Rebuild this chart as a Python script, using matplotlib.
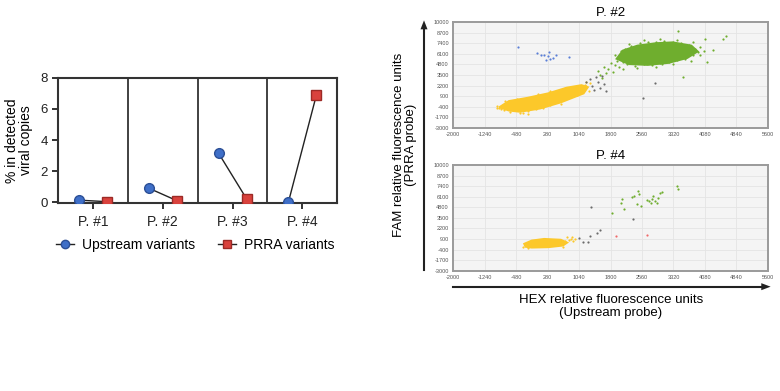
import numpy as np
import matplotlib.pyplot as plt
from matplotlib.patches import Polygon
from matplotlib.lines import Line2D

plt.rcParams['font.family'] = ['Liberation Sans', 'DejaVu Sans']
plt.rcParams['axes.unicode_minus'] = False

# 左图数据
patients = ['P. #1', 'P. #2', 'P. #3', 'P. #4']
upstream = [0.13, 0.9, 3.15, 0.0]
prra = [0.03, 0.1, 0.22, 6.88]

# 右图: ddPCR 液滴 (HEX, FAM)
p2_yellow_core = [(-880, -450), (-650, -850), (-380, -1000), (100, -600), (600, 150),
                  (1150, 1250), (1250, 2000), (1100, 2250), (750, 1950), (300, 1250),
                  (-200, 700), (-650, 300)]
p2_yellow = [(-940, -300), (-880, -560), (-800, -200), (-760, -820), (-700, -450), (-620, -1000),
             (-560, -150), (-500, -700), (-450, 100), (-380, -1100), (-300, 300), (-200, -900),
             (-100, 450), (0, -700), (80, 700), (180, -500), (260, 900), (350, -200), (420, 1100),
             (500, 200), (560, 1400), (640, 500), (720, 1600), (800, 900), (860, 1900), (920, 1200),
             (980, 2000), (1040, 1500), (1100, 2200), (1160, 1800), (1220, 2100), (1280, 1600),
             (-850, -700), (-650, -250), (150, 1000), (700, 1850), (1000, 1100), (-300, -1200),
             (600, -100), (1180, 2300), (-750, 300), (-450, 500), (50, 1200), (350, 1500),
             (1300, 2500), (1200, 2600), (-950, -600), (-200, -1300)]
p2_green_core = [(1950, 5500), (2100, 6500), (2450, 7100), (2900, 7400), (3300, 7500), (3750, 7100),
                 (3900, 6400), (3650, 5600), (3200, 5000), (2700, 4750), (2250, 4850)]
p2_green = [(1600, 3100), (1700, 3700), (1750, 4300), (1850, 3900), (1900, 4700), (1950, 5200),
            (2000, 4500), (2050, 6000), (2100, 5100), (2150, 6700), (2200, 4800), (2300, 7100),
            (2400, 4600), (2500, 7400), (2600, 4900), (2700, 7600), (2800, 4700), (2900, 7500),
            (3000, 5000), (3100, 7700), (3200, 5100), (3300, 7600), (3400, 5300), (3500, 7400),
            (3600, 5500), (3700, 7200), (3800, 5900), (3850, 6700), (3900, 6300), (3950, 6000),
            (3430, 8900), (4514, 7900), (4586, 8280), (4273, 6560), (4128, 5100), (4080, 7900),
            (3550, 3250), (1500, 4000), (1800, 5000), (2250, 5700), (3050, 4800), (3750, 5200),
            (1900, 5900), (2050, 6500), (2250, 7300), (2600, 7800), (3000, 7900), (3400, 7800),
            (3800, 7500), (3950, 6900), (4050, 6400), (2100, 4300), (2450, 4400), (2900, 4500),
            (3300, 4900), (1650, 4500), (1550, 3500)]
p2_gray = [(1200, 2600), (1300, 3000), (1350, 2200), (1450, 3300), (1500, 2700), (1550, 1900),
           (1600, 3400), (1650, 2400), (1700, 1500), (1400, 1700), (2585, 660), (2875, 2500)]
p2_blue = [(-432, 6930), (30, 6200), (120, 5900), (200, 5900), (280, 5800), (320, 6300),
           (350, 5500), (250, 5400), (420, 5600), (480, 6000), (800, 5700)]

p4_yellow_core = [(-250, -50), (-100, -150), (300, -100), (650, 100), (750, 450), (600, 800),
                  (200, 900), (-100, 700), (-280, 300)]
p4_yellow = [(700, 600), (760, 1100), (800, 800), (850, 950), (900, 700), (880, 1150),
             (-300, -100), (-200, -250), (650, -50), (950, 850)]
p4_gray = [(1040, 1020), (1136, 570), (1250, 570), (1306, 1270), (1467, 1600), (1547, 2000),
           (1322, 4870), (2351, 3360)]
p4_red = [(1925, 1300), (2690, 1400)]
p4_green = [(1829, 4133), (2047, 5290), (2077, 5820), (2118, 4550), (2311, 6030), (2359, 6230),
            (2455, 6770), (2495, 6400), (2447, 5170), (2536, 4960), (2689, 5700), (2737, 5610),
            (2794, 5780), (2834, 6220), (2874, 5610), (2770, 5290), (2938, 5910), (2994, 6520),
            (3034, 6640), (2930, 5360), (3396, 7450), (3420, 7050)]

xticks = np.arange(-2000, 5601, 760)
yticks = np.arange(-3000, 10001, 1300)

blue = '#3f6fc8'
red = '#d9423d'
yellow = '#fcc82a'
green = '#6fae2e'

fig = plt.figure(figsize=(7.8, 3.91), dpi=100)

# ---- 左图 ----
ax = fig.add_axes([0.0744, 0.481, 0.358, 0.3197])
x = np.arange(1, 5)
for i in range(4):
    ax.plot([x[i] - 0.2, x[i] + 0.2], [upstream[i], prra[i]], color='#222222', lw=1, zorder=2)
ax.plot(x - 0.2, upstream, 'o', color=blue, mec='#2c4f96', ms=7, zorder=3)
ax.plot(x + 0.2, prra, 's', color=red, mec='#9c2a26', ms=7, zorder=3)
for d in [1.5, 2.5, 3.5]:
    ax.axvline(d, color='#333333', lw=1.3)
ax.set_xlim(0.5, 4.5)
ax.set_ylim(-0.05, 8)
ax.set_yticks([0, 2, 4, 6, 8])
ax.set_xticks(x)
ax.set_xticklabels(patients)
ax.tick_params(labelsize=9.5, width=1.3, length=4, colors='#222222')
ax.tick_params(axis='x', pad=5, labelsize=10)
for s in ax.spines.values():
    s.set_linewidth(1.5)
    s.set_color('#333333')
ax.set_ylabel('% in detected\nviral copies', fontsize=10, linespacing=1.0, labelpad=5)

handles = [Line2D([], [], color='#222222', lw=1, marker='o', mfc=blue, mec='#2c4f96', ms=6),
           Line2D([], [], color='#222222', lw=1, marker='s', mfc=red, mec='#9c2a26', ms=6)]
fig.legend(handles, ['Upstream variants', 'PRRA variants'], loc='center left',
           bbox_to_anchor=(0.063, 0.373), ncol=2, frameon=False, fontsize=10,
           handlelength=1.3, columnspacing=1.6, handletextpad=0.6, borderpad=0)

# ---- 右图 ----
def droplet_panel(pos, title, cores, groups):
    a = fig.add_axes(pos)
    a.set_facecolor('#f4f4f4')
    for core, c in cores:
        a.add_patch(Polygon(core, closed=True, fc=c, ec=c, lw=1.5, zorder=2))
    for pts, c in groups:
        arr = np.array(pts)
        a.scatter(arr[:, 0], arr[:, 1], s=2.5, color=c, lw=0, zorder=3)
    a.set_xlim(-2000, 5600)
    a.set_ylim(-3000, 10000)
    a.set_xticks(xticks)
    a.set_yticks(yticks)
    a.grid(True, color='#e4e4e4', lw=0.6)
    a.set_axisbelow(True)
    a.tick_params(labelsize=4, length=0, pad=3, colors='#555555')
    for s in a.spines.values():
        s.set_color('#9a9a9a')
        s.set_linewidth(1.4)
    a.set_title(title, fontsize=9.5, pad=4)
    return a

droplet_panel([0.5808, 0.6726, 0.4038, 0.271], 'P. #2',
              [(p2_yellow_core, yellow), (p2_green_core, green)],
              [(p2_yellow, yellow), (p2_green, green), (p2_gray, '#6b6b6b'), (p2_blue, '#5b7fd6')])
droplet_panel([0.5808, 0.3077, 0.4038, 0.2703], 'P. #4',
              [(p4_yellow_core, yellow)],
              [(p4_yellow, yellow), (p4_green, green), (p4_gray, '#6b6b6b'), (p4_red, '#f06a6a')])

# 坐标箭头
fig.add_artist(Line2D([0.5436, 0.5436], [0.3095, 0.93], transform=fig.transFigure,
                      color='#222222', lw=1.5))
fig.patches.append(plt.Polygon([(0.5436 - 0.0045, 0.925), (0.5436 + 0.0045, 0.925), (0.5436, 0.948)],
                               closed=True, transform=fig.transFigure, fc='#222222', ec='none'))
fig.add_artist(Line2D([0.581, 0.978], [0.2668, 0.2668], transform=fig.transFigure,
                      color='#222222', lw=1.5))
fig.patches.append(plt.Polygon([(0.976, 0.2668 + 0.009), (0.976, 0.2668 - 0.009), (0.988, 0.2668)],
                               closed=True, transform=fig.transFigure, fc='#222222', ec='none'))

fig.text(0.519, 0.629, 'FAM relative fluorescence units\n(PRRA probe)', rotation=90,
         ha='center', va='center', fontsize=9.5, linespacing=1.05)
fig.text(0.783, 0.216, 'HEX relative fluorescence units\n(Upstream probe)',
         ha='center', va='center', fontsize=9.5, linespacing=1.05)

plt.savefig('out.png', dpi=100)
